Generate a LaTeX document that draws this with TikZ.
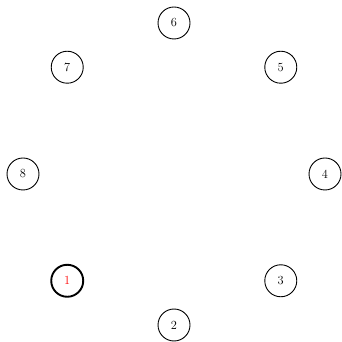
\documentclass[tikz,border=0pt]{standalone}
\usepackage{xcolor}
\usetikzlibrary{calc}
\begin{document}
\begin{tikzpicture}[x=1pt,y=1pt,
  vtx/.style={circle,draw,line width=0.9pt,minimum size=32pt,inner sep=0pt,font=\fontsize{12.4}{15}\selectfont},
  start/.style={vtx,line width=1.9pt,text=red}]
\useasboundingbox (0,0) rectangle (341,342);
\coordinate (c) at (174,168);
\node[start] (n1) at ($(c)+(225:151)$) {1};
\foreach \i in {2,...,8}{
  \pgfmathsetmacro\ang{225+45*(\i-1)}
  \node[vtx] (n\i) at ($(c)+(\ang:151)$) {\i};
}
\end{tikzpicture}
\end{document}
